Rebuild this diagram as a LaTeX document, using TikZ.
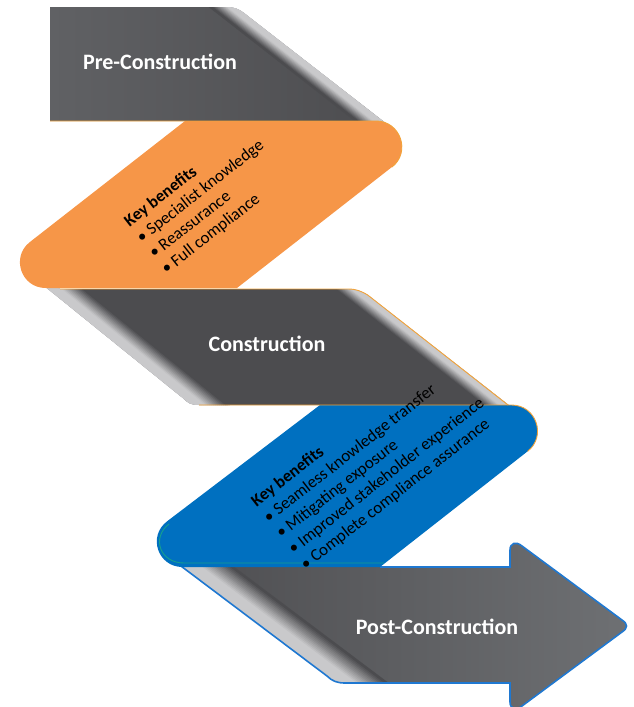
\documentclass[tikz,border=0pt]{standalone}
\usepackage{fontspec}
\setmainfont{Carlito}

\definecolor{bandorange}{HTML}{F69648}
\definecolor{bandblue}{HTML}{0070C0}
\definecolor{ribbondark}{HTML}{4C4C4F}
\definecolor{ribbonmid}{HTML}{6E7073}
\definecolor{ribbonleft}{HTML}{606164}
\definecolor{foldlight}{HTML}{C9C9CB}
\definecolor{edgeorange}{HTML}{F2A33A}
\definecolor{arrowline}{HTML}{1F78D1}
\definecolor{edgeteal}{HTML}{17A08E}

\tikzset{
  stagetitle/.style={text=white, font=\bfseries\fontsize{22}{26}\selectfont},
  benefitlist/.style={rotate=38, anchor=north west, inner sep=0pt, align=left,
    font=\fontsize{17}{20}\selectfont},
  edgeline/.style={edgeorange, line width=0.9pt},
}

% light strip along a fold: top point, bottom point, step, count
\newcommand\foldstrip[6]{%
  \foreach \i in {0,...,#6}{
    \pgfmathtruncatemacro\mixpct{100*min(1,1.7*(1-\i/#6))}
    \draw[line width=2.6pt, foldlight!\mixpct!ribbondark]
      ({#1+\i*#5},#2) -- ({#3+\i*#5},#4);
  }}

\def\preband{(50,7) -- (226,7) .. controls (234,7) and (239,9) .. (244,13)
  -- (392,128) -- (300,128) -- (300,121) -- (50,121) -- cycle}
\def\constband{(22,268) -- (60,289) -- (348,289) .. controls (356,289) and (361,291) .. (367.7,295)
  -- (515,410) -- (400,410) -- (400,405) -- (199,405) .. controls (191,405) and (188,403) .. (184,399) -- cycle}
\def\postband{(161,551) -- (327,676) .. controls (332,681) and (337,683) .. (345,683)
  -- (510,683) -- (510,702) .. controls (510,709) and (516,711) .. (522,706)
  -- (622,632) .. controls (628,628) and (628,624) .. (622,620)
  -- (522,546) .. controls (516,541) and (510,543) .. (510,550)
  -- (510,567) -- (250,567) -- cycle}

\begin{document}
\begin{tikzpicture}[x=1pt,y=-1pt]
\useasboundingbox (0,0) rectangle (634,707);

% grey ribbons
\shade[left color=ribbonleft, right color=ribbondark] \preband;
\begin{scope}
  \clip \preband;
  \foldstrip{214.6}{-10}{406.6}{140}{-1.6}{16}
\end{scope}

\shade[left color=ribbondark, middle color=ribbonmid, right color=ribbondark] \constband;
\begin{scope}
  \clip \constband;
  \foldstrip{-0.3}{250}{210}{420}{2}{18}
  \foldstrip{348.5}{280}{527.7}{420}{-1.6}{16}
\end{scope}

\shade[left color=ribbondark, right color=ribbonmid] \postband;
\begin{scope}
  \clip \postband;
  \foldstrip{146.4}{540}{359.2}{700}{2.5}{20}
\end{scope}
\draw[arrowline, line width=1.6pt] (161,551) -- (327,676) .. controls (332,681) and (337,683) .. (345,683)
  -- (510,683) -- (510,702) .. controls (510,709) and (516,711) .. (522,706)
  -- (622,632) .. controls (628,628) and (628,624) .. (622,620)
  -- (522,546) .. controls (516,541) and (510,543) .. (510,550) -- (510,567) -- (380,567);

% coloured ribbons
\fill[bandorange] (185,121) -- (376,121) .. controls (400.4,121) and (411.2,152) .. (392,167)
  -- (237,288) -- (45.6,288) .. controls (21.2,288) and (10.6,257.1) .. (29.8,242.1) -- cycle;
\fill[bandblue] (320,405) -- (511.5,405) .. controls (536.2,405) and (547,436.2) .. (527.5,451.4)
  -- (380,567) -- (182.5,567) .. controls (157.8,567) and (147.4,536.2) .. (167.1,521.3) -- cycle;

% thin edges
\draw[edgeline] (50,121) -- (376,121) .. controls (400.4,121) and (411.2,152) .. (392,167);
\draw[edgeline] (60,289) -- (348,289) .. controls (356,289) and (361,291) .. (367.7,295) -- (508,405);
\draw[edgeline] (199,405) -- (511.5,405) .. controls (536.2,405) and (547,436.2) .. (527.5,451.4);
\draw[edgeteal, line width=0.9pt] (169,524) .. controls (151,538) and (160,563) .. (184,563) -- (384,563);

% texts
\node[stagetitle] (pretitle) at (160,62) {Pre-Construction};
\node[stagetitle] (consttitle) at (267,344) {Construction};
\node[stagetitle] (posttitle) at (437,627) {Post-Construction};

\node[benefitlist] (prelist) at (122,218)
  {\textbf{Key benefits}\\• Specialist knowledge\\• Reassurance\\• Full compliance};
\node[benefitlist] (constlist) at (249,498)
  {\textbf{Key benefits}\\• Seamless knowledge transfer\\• Mitigating exposure\\• Improved stakeholder experience\\• Complete compliance assurance};
\end{tikzpicture}
\end{document}
